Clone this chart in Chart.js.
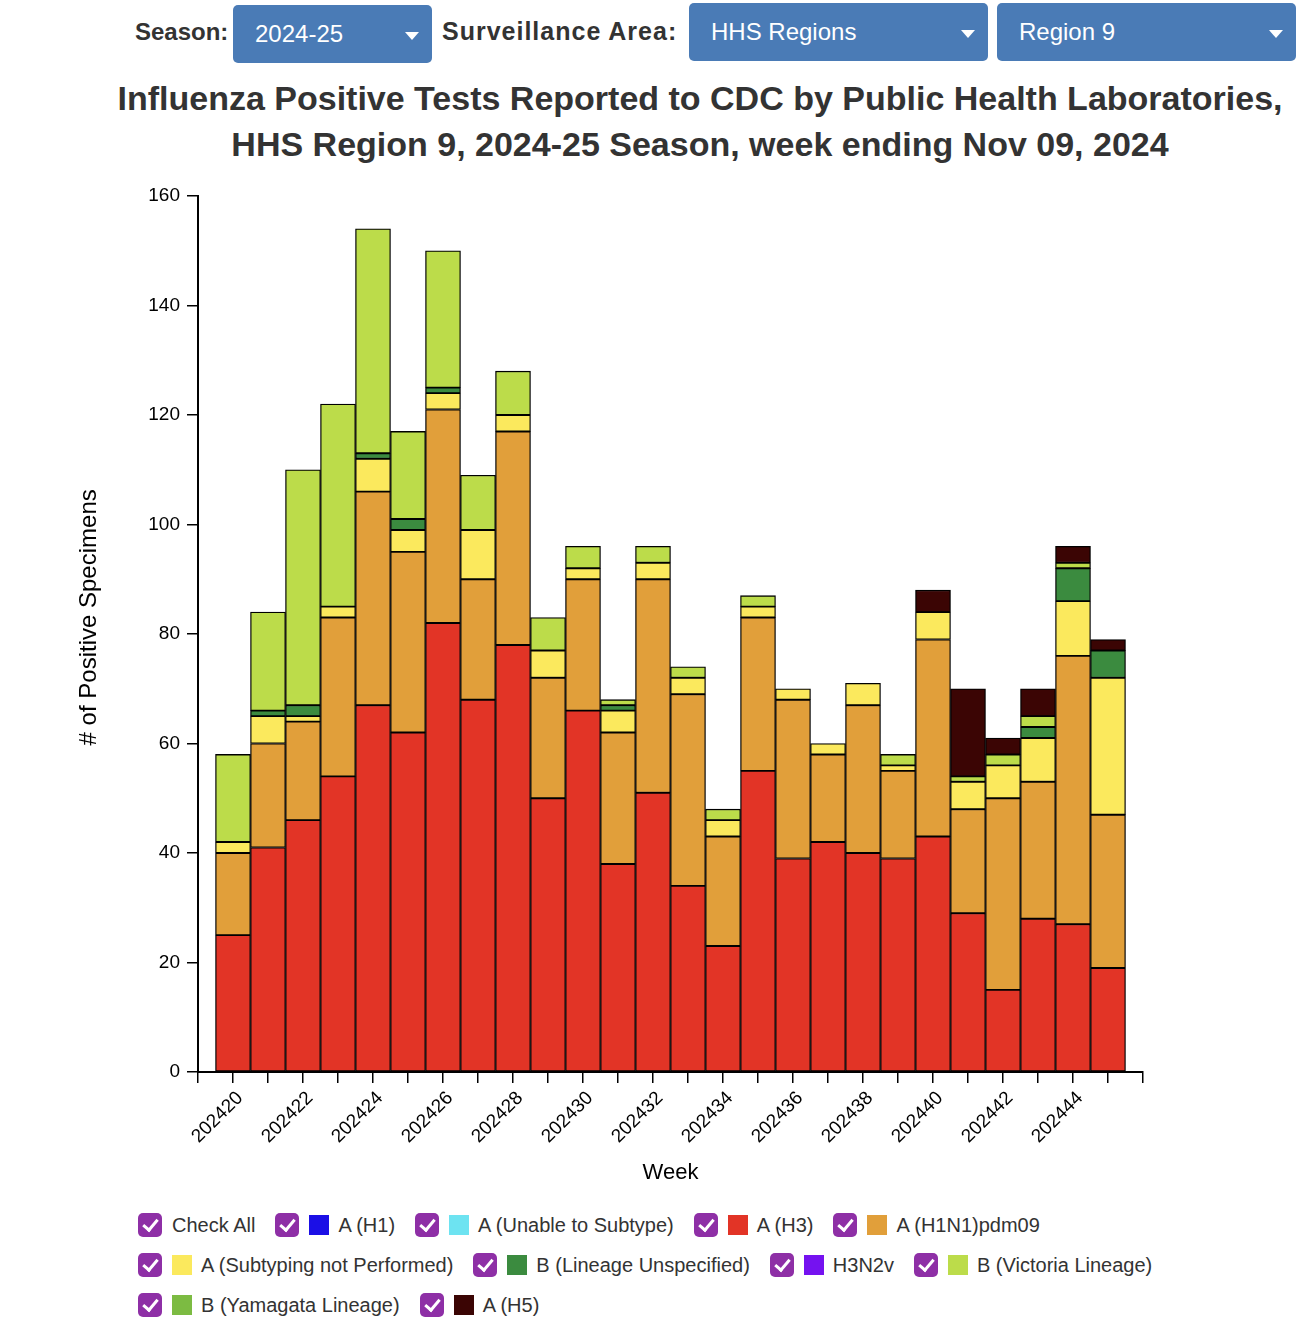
<!DOCTYPE html>
<html>
<head>
<meta charset="utf-8">
<script src="https://cdn.jsdelivr.net/npm/chart.js@4.4.1/dist/chart.umd.min.js"></script>
<style>
  body { margin: 0; width: 1312px; height: 1332px; position: relative; background: #fff;
         font-family: 'Liberation Sans', Arial, Helvetica, sans-serif; color: #333; overflow: hidden; }
  .lbl { position: absolute; font-weight: bold; font-size: 24px; line-height: 30px; color: #333; }
  .dd { position: absolute; height: 58px; background: #4a7bb6; border-radius: 5px; color: #fff;
        font-size: 24px; line-height: 58px; box-sizing: border-box; padding-left: 22px; }
  .dd::after { content: ''; position: absolute; right: 13px; top: 27px; border-left: 7px solid transparent;
               border-right: 7px solid transparent; border-top: 8px solid #fff; }
  #title { position: absolute; left: 88px; right: 0; top: 75px; text-align: center; font-weight: bold;
           font-size: 34px; line-height: 46px; color: #333; }
  #wrap { position: absolute; left: 0; top: 170px; width: 1312px; height: 1030px; }
  #legend { position: absolute; left: 138px; top: 1205px; width: 1170px; display: flex; flex-wrap: wrap; }
  .item { display: flex; align-items: center; height: 40px; margin-right: 20px; font-size: 20px; color: #333; }
  .chk { width: 24px; height: 24px; border-radius: 5px; background: #8e2fa6; position: relative; margin-right: 10px; }
  .chk::after { content: ''; position: absolute; left: 8px; top: 3px; width: 6px; height: 12px;
                border: solid #fff; border-width: 0 3px 3px 0; transform: rotate(40deg); }
  .sw { width: 20px; height: 20px; margin-right: 9px; }
</style>
</head>
<body>
<div class="lbl" style="left:135px; top:17px;">Season:</div>
<div class="dd" style="left:233px; top:5px; width:199px;">2024-25</div>
<div class="lbl" style="left:442px; top:16px; font-size:25px; letter-spacing:1px;">Surveillance Area:</div>
<div class="dd" style="left:689px; top:3px; width:299px;">HHS Regions</div>
<div class="dd" style="left:997px; top:3px; width:299px;">Region 9</div>
<div id="title">Influenza Positive Tests Reported to CDC by Public Health Laboratories,<br>HHS Region 9, 2024-25 Season, week ending Nov 09, 2024</div>
<div id="wrap"><canvas id="chart"></canvas></div>
<div id="legend"></div>
<script>
// semanas (MMWR) do gráfico
const weeks = ['202420', '202421', '202422', '202423', '202424', '202425', '202426', '202427', '202428',
  '202429', '202430', '202431', '202432', '202433', '202434', '202435', '202436', '202437', '202438',
  '202439', '202440', '202441', '202442', '202443', '202444', '202445'];

// positivos por subtipo, um valor por semana
const aH1 = [0, 0, 0, 0, 0, 0, 0, 0, 0, 0, 0, 0, 0, 0, 0, 0, 0, 0, 0, 0, 0, 0, 0, 0, 0, 0];
const aUnable = [0, 0, 0, 0, 0, 0, 0, 0, 0, 0, 0, 0, 0, 0, 0, 0, 0, 0, 0, 0, 0, 0, 0, 0, 0, 0];
const aH3 = [25, 41, 46, 54, 67, 62, 82, 68, 78, 50, 66, 38, 51, 34, 23, 55, 39, 42, 40, 39, 43, 29, 15, 28, 27, 19];
const aH1N1 = [15, 19, 18, 29, 39, 33, 39, 22, 39, 22, 24, 24, 39, 35, 20, 28, 29, 16, 27, 16, 36, 19, 35, 25, 49, 28];
const aNotSubtyped = [2, 5, 1, 2, 6, 4, 3, 9, 3, 5, 2, 4, 3, 3, 3, 2, 2, 2, 4, 1, 5, 5, 6, 8, 10, 25];
const bUnspecified = [0, 1, 2, 0, 1, 2, 1, 0, 0, 0, 0, 1, 0, 0, 0, 0, 0, 0, 0, 0, 0, 0, 0, 2, 6, 5];
const h3n2v = [0, 0, 0, 0, 0, 0, 0, 0, 0, 0, 0, 0, 0, 0, 0, 0, 0, 0, 0, 0, 0, 0, 0, 0, 0, 0];
const bVictoria = [16, 18, 43, 37, 41, 16, 25, 10, 8, 6, 4, 1, 3, 2, 2, 2, 0, 0, 0, 2, 0, 1, 2, 2, 1, 0];
const bYamagata = [0, 0, 0, 0, 0, 0, 0, 0, 0, 0, 0, 0, 0, 0, 0, 0, 0, 0, 0, 0, 0, 0, 0, 0, 0, 0];
const aH5 = [0, 0, 0, 0, 0, 0, 0, 0, 0, 0, 0, 0, 0, 0, 0, 0, 0, 0, 0, 0, 4, 16, 3, 5, 3, 2];

const yTicks = [0, 20, 40, 60, 80, 100, 120, 140, 160];

const series = [
  { name: 'A (H1)', color: '#1b0fe6', values: aH1 },
  { name: 'A (Unable to Subtype)', color: '#6de3f1', values: aUnable },
  { name: 'A (H3)', color: '#e23426', values: aH3 },
  { name: 'A (H1N1)pdm09', color: '#e19f3a', values: aH1N1 },
  { name: 'A (Subtyping not Performed)', color: '#fbe95d', values: aNotSubtyped },
  { name: 'B (Lineage Unspecified)', color: '#3b8b3f', values: bUnspecified },
  { name: 'H3N2v', color: '#7512f0', values: h3n2v },
  { name: 'B (Victoria Lineage)', color: '#bcdc4a', values: bVictoria },
  { name: 'B (Yamagata Lineage)', color: '#7cbb42', values: bYamagata },
  { name: 'A (H5)', color: '#3b0504', values: aH5 }
];

// uma categoria vazia em cada ponta, como no eixo original
const labels = [''].concat(weeks, ['']);

const datasets = series.map(s => ({
  label: s.name,
  data: [null].concat(s.values.map(v => v === 0 ? null : v), [null]),
  backgroundColor: s.color,
  borderColor: '#000',
  borderWidth: 1.3,
  borderSkipped: false,
  barPercentage: 1,
  categoryPercentage: 1,
  stack: 'all'
}));

const fonte = "'Liberation Sans', Arial, Helvetica, sans-serif";

new Chart(document.getElementById('chart'), {
  type: 'bar',
  data: { labels: labels, datasets: datasets },
  options: {
    responsive: true,
    maintainAspectRatio: false,
    animation: false,
    layout: { padding: { top: 26, right: 169, left: 0, bottom: 0 } },
    plugins: { legend: { display: false }, tooltip: { enabled: false } },
    scales: {
      x: {
        stacked: true,
        offset: false,
        afterFit: s => { s.height = 128; },
        border: { display: true, color: '#000', width: 2 },
        grid: { display: true, offset: false, drawOnChartArea: false, drawTicks: true, tickLength: 11, color: '#000', lineWidth: 1.5 },
        ticks: {
          autoSkip: false, minRotation: 45, maxRotation: 45, color: '#000', padding: 4, labelOffset: 7,
          font: { family: fonte, size: 19 },
          callback: (v, i) => i % 2 === 1 ? labels[i] : ''
        },
        title: { display: true, text: 'Week', color: '#000', font: { family: fonte, size: 22 }, padding: { top: 0, bottom: 14 } }
      },
      y: {
        stacked: true,
        min: 0,
        max: 160,
        afterFit: s => { s.width = 198; },
        afterBuildTicks: s => { s.ticks = yTicks.map(v => ({ value: v })); },
        border: { display: true, color: '#000', width: 2 },
        grid: { display: true, drawOnChartArea: false, drawTicks: true, tickLength: 11, color: '#000', lineWidth: 1.5 },
        ticks: { color: '#000', padding: 7, font: { family: fonte, size: 19 } },
        title: { display: true, text: '     # of Positive Specimens', color: '#000', font: { family: fonte, size: 24 }, padding: { top: 75, bottom: 0 } }
      }
    }
  }
});

// legenda em HTML com as caixinhas marcadas
const legend = document.getElementById('legend');
legend.innerHTML = '<div class="item"><span class="chk"></span>Check All</div>' +
  series.map(s => `<div class="item"><span class="chk"></span><span class="sw" style="background:${s.color}"></span>${s.name}</div>`).join('');
</script>
</body>
</html>
